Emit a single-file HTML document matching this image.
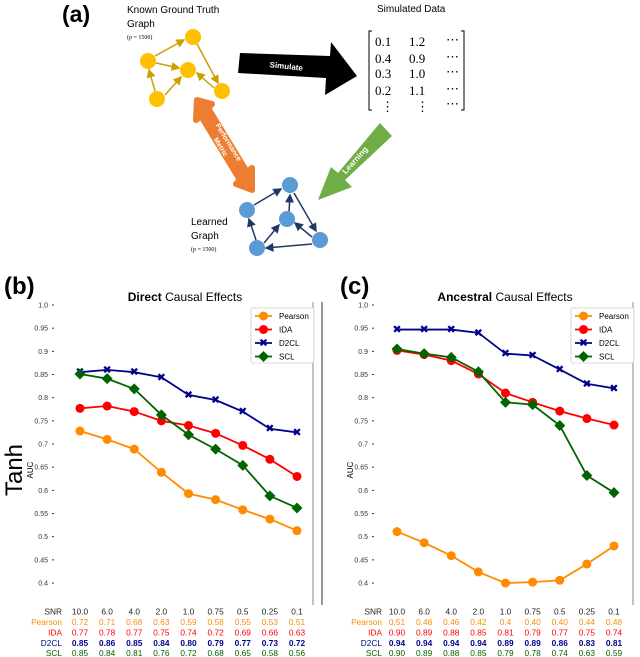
<!DOCTYPE html>
<html><head><meta charset="utf-8"><style>
body{margin:0;background:#fff;}
svg{display:block;font-family:"Liberation Sans","DejaVu Sans",sans-serif;}
</style></head><body>
<svg id="fig" width="640" height="657" viewBox="0 0 640 657">
<defs>
<marker id="ay" markerWidth="6" markerHeight="6" refX="5" refY="3" orient="auto"><path d="M0,0L6,3L0,6z" fill="#c9a000"/></marker>
<marker id="ab" markerWidth="6" markerHeight="6" refX="5" refY="3" orient="auto"><path d="M0,0L6,3L0,6z" fill="#1f3864"/></marker>
</defs>
<g>
<text x="62" y="22" font-size="23" font-weight="bold">(a)</text>
<text x="127" y="13" font-size="10">Known Ground Truth</text>
<text x="127" y="27" font-size="10">Graph</text>
<text x="127" y="39" font-size="6" font-family="Liberation Serif">(p = 1500)</text>
<g stroke="#c9a000" stroke-width="1.5" marker-end="url(#ay)">
<line x1="155" y1="56" x2="184" y2="40"/><line x1="197" y1="44" x2="218" y2="83"/>
<line x1="156" y1="63" x2="179" y2="68"/><line x1="165" y1="95" x2="181" y2="77"/>
<line x1="214" y1="88" x2="197" y2="73"/><line x1="155" y1="91" x2="149" y2="70"/>
</g>
<g fill="#ffc000">
<circle cx="193" cy="37" r="8"/><circle cx="148" cy="61" r="8"/><circle cx="188" cy="70" r="8"/><circle cx="157" cy="99" r="8"/><circle cx="222" cy="91" r="8"/>
</g>
<polygon points="240,53 330,56 331,42 357,76 325,95 326,78 238,73" fill="#000"/>
<text x="286" y="69" font-size="8" font-weight="bold" fill="#fff" transform="rotate(6 286 69)" text-anchor="middle">Simulate</text>
<text x="377" y="12" font-size="10">Simulated Data</text>
<g font-family="Liberation Serif" font-size="13">
<path d="M372,31 L369,31 L369,110 L372,110" fill="none" stroke="#000"/>
<path d="M461,31 L464,31 L464,110 L461,110" fill="none" stroke="#000"/>
<text x="375" y="46">0.1</text><text x="409" y="46">1.2</text><text x="446" y="44">⋯</text>
<text x="375" y="63">0.4</text><text x="409" y="63">0.9</text><text x="446" y="61">⋯</text>
<text x="375" y="78">0.3</text><text x="409" y="78">1.0</text><text x="446" y="76">⋯</text>
<text x="375" y="95">0.2</text><text x="409" y="95">1.1</text><text x="446" y="93">⋯</text>
<text x="381" y="111">⋮</text><text x="416" y="111">⋮</text><text x="446" y="108">⋯</text>
</g>
<polygon points="197,100 212,104 208,108 247,172 252,168 252,190 236,184 240,180 201,116 196,120" fill="#ed7d31" stroke="#ed7d31" stroke-width="6" stroke-linejoin="round"/>
<text x="224" y="145" font-size="7" font-weight="bold" fill="#fff" text-anchor="middle" transform="rotate(58 224 145)"><tspan x="224" dy="-3">Performance</tspan><tspan x="224" dy="9">Metric</tspan></text>
<polygon points="380,123 392,136 345,180 352,187 318,200 331,167 338,173" fill="#70ad47"/>
<text x="357" y="162" font-size="8" font-weight="bold" fill="#fff" text-anchor="middle" transform="rotate(-48 357 162)">Learning</text>
<text x="191" y="225" font-size="10">Learned</text>
<text x="191" y="239" font-size="10">Graph</text>
<text x="191" y="251" font-size="6" font-family="Liberation Serif">(p = 1500)</text>
<g stroke="#1f3864" stroke-width="1.5" marker-end="url(#ab)">
<line x1="254" y1="205" x2="281" y2="189"/><line x1="294" y1="193" x2="316" y2="231"/>
<line x1="289" y1="212" x2="290" y2="195"/><line x1="264" y1="243" x2="279" y2="225"/>
<line x1="312" y1="237" x2="295" y2="223"/><line x1="256" y1="240" x2="249" y2="219"/>
<line x1="312" y1="244" x2="266" y2="248"/>
</g>
<g fill="#5b9bd5">
<circle cx="290" cy="185" r="8"/><circle cx="247" cy="210" r="8"/><circle cx="287" cy="219" r="8"/><circle cx="257" cy="248" r="8"/><circle cx="320" cy="240" r="8"/>
</g>
</g>
<text x="4" y="294" font-size="24" font-weight="bold">(b)</text>
<text x="340" y="294" font-size="24" font-weight="bold">(c)</text>
<text x="22" y="470" font-size="24" text-anchor="middle" transform="rotate(-90 22 470)">Tanh</text>
<g id="charts"></g>
</svg>
<script>
const categories = ["10.0","6.0","4.0","2.0","1.0","0.75","0.5","0.25","0.1"];
const yTicks = [1.0,0.95,0.9,0.85,0.8,0.75,0.7,0.65,0.6,0.55,0.5,0.45,0.4];
const yTickLabels = ["1.0","0.95","0.9","0.85","0.8","0.75","0.7","0.65","0.6","0.55","0.5","0.45","0.4"];
const seriesNames = ["Pearson","IDA","D2CL","SCL"];
const directPearson = [0.728,0.710,0.689,0.639,0.593,0.580,0.558,0.538,0.513];
const directIDA = [0.777,0.782,0.770,0.750,0.740,0.723,0.697,0.667,0.630];
const directD2CL = [0.855,0.860,0.855,0.844,0.806,0.795,0.770,0.733,0.725];
const directSCL = [0.851,0.841,0.819,0.763,0.720,0.689,0.654,0.588,0.562];
const ancPearson = [0.511,0.487,0.459,0.424,0.400,0.402,0.406,0.441,0.480];
const ancIDA = [0.902,0.893,0.880,0.851,0.810,0.790,0.771,0.755,0.741];
const ancD2CL = [0.947,0.947,0.947,0.940,0.895,0.891,0.861,0.830,0.820];
const ancSCL = [0.905,0.895,0.887,0.856,0.790,0.785,0.740,0.632,0.595];
const directTable = [["0.72","0.71","0.68","0.63","0.59","0.58","0.55","0.53","0.51"],["0.77","0.78","0.77","0.75","0.74","0.72","0.69","0.66","0.63"],["0.85","0.86","0.85","0.84","0.80","0.79","0.77","0.73","0.72"],["0.85","0.84","0.81","0.76","0.72","0.68","0.65","0.58","0.56"]];
const ancTable = [["0.51","0.48","0.46","0.42","0.4","0.40","0.40","0.44","0.48"],["0.90","0.89","0.88","0.85","0.81","0.79","0.77","0.75","0.74"],["0.94","0.94","0.94","0.94","0.89","0.89","0.86","0.83","0.81"],["0.90","0.89","0.88","0.85","0.79","0.78","0.74","0.63","0.59"]];

const NS="http://www.w3.org/2000/svg";
const colors=["#ff8c00","#ff0000","#00008b","#006400"];
const root=document.getElementById('charts');
function mk(tag,attrs,parent,txt){const e=document.createElementNS(NS,tag);for(const k in attrs)e.setAttribute(k,attrs[k]);if(txt!=null)e.textContent=txt;parent.appendChild(e);return e;}
function marker(g,name,x,y,c){
  if(name==="Pearson"||name==="IDA"){mk('circle',{cx:x,cy:y,r:4.5,fill:c},g);}
  else if(name==="D2CL"){mk('text',{x:x,y:y+3.5,'font-size':11,'font-weight':'bold','text-anchor':'middle',fill:c},g,'✖');}
  else{mk('polygon',{points:`${x},${y-5.5} ${x+5.5},${y} ${x},${y+5.5} ${x-5.5},${y}`,fill:c},g);}
}
function chart(id,ox,x0,x1,titleB,titleR,series,table,frameLeft){
  const g=mk('g',{},root);
  
  
  const yS=v=>305+(1.0-v)/0.05*23.17;
  const xS=i=>x0+i*(x1-x0)/(categories.length-1);
  const t=mk('text',{x:ox+185,y:301,'font-size':12,'text-anchor':'middle'},g);
  
  
  mk('tspan',{'font-weight':'bold'},t,titleB);mk('tspan',{},t,' '+titleR);
  if(frameLeft){const l=mk('line',{x1:ox+2,y1:302,x2:ox+2,y2:605,stroke:'#555','stroke-width':1.2},g);}
  const r=mk('line',{x1:ox+313,y1:302,x2:ox+313,y2:605,stroke:'#888','stroke-width':1},g);
  
  
  yTicks.forEach((v,i)=>{
    const tl=mk('text',{x:ox+48,y:yS(v)+2.5,'font-size':7,'text-anchor':'end',fill:'#333'},g,yTickLabels[i]);
    
    
    mk('line',{x1:ox+52,y1:yS(v),x2:ox+54,y2:yS(v),stroke:'#333'},g);
  });
  const ya=mk('text',{x:ox+33,y:470,'font-size':8,'text-anchor':'middle',transform:`rotate(-90 ${ox+33} 470)`},g,'AUC');
  
  
  series.forEach((s,si)=>{
    const sg=mk('g',{},g);
    
    
    mk('polyline',{points:s.map((v,i)=>xS(i)+','+yS(v)).join(' '),fill:'none',stroke:colors[si],'stroke-width':1.8},sg);
    s.forEach((v,i)=>marker(sg,seriesNames[si],xS(i),yS(v),colors[si]));
  });
  const lg=mk('g',{},g);
  
  
  mk('rect',{x:ox+251,y:308,width:63,height:55,fill:'#fff',stroke:'#ccc','stroke-width':0.8,rx:2},lg);
  seriesNames.forEach((n,si)=>{
    const y=316+si*13.5;
    mk('line',{x1:ox+255,y1:y,x2:ox+272,y2:y,stroke:colors[si],'stroke-width':1.8},lg);
    marker(lg,n,ox+263.5,y,colors[si]);
    const le=mk('text',{x:ox+279,y:y+3,'font-size':8},lg,n);
    
    
  });
  const tb=mk('g',{'font-size':8.3},g);
  
  
  mk('text',{x:ox+62,y:614.5,'text-anchor':'end',fill:'#222'},tb,'SNR');
  categories.forEach((c,i)=>mk('text',{x:xS(i),y:614.5,'text-anchor':'middle',fill:'#222'},tb,c));
  table.forEach((row,ri)=>{
    const y=625+ri*10.4;
    mk('text',{x:ox+62,y:y,'text-anchor':'end',fill:colors[ri]},tb,seriesNames[ri]);
    row.forEach((v,i)=>mk('text',{x:xS(i),y:y,'text-anchor':'middle',fill:colors[ri],'font-weight':ri===2?'bold':'normal'},tb,v));
  });
}
chart('direct-effects-chart',0,80,297,'Direct','Causal Effects',[directPearson,directIDA,directD2CL,directSCL],directTable,false);
chart('ancestral-effects-chart',320,397,614,'Ancestral','Causal Effects',[ancPearson,ancIDA,ancD2CL,ancSCL],ancTable,true);
</script>
</body></html>
